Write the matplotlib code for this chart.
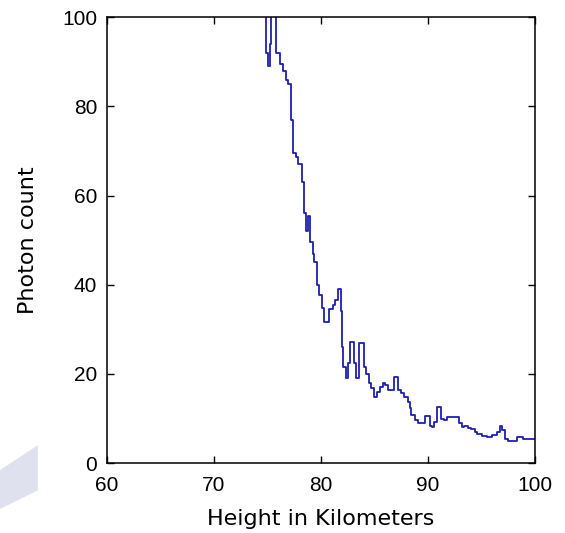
import matplotlib
matplotlib.use('Agg')
import matplotlib.pyplot as plt
from matplotlib.patches import Polygon

# Photon count profile (step levels)
height_km = [
    74.0, 74.85, 75.05, 75.2, 75.35, 75.85, 76.2, 76.45, 76.7, 76.9,
    77.2, 77.4, 77.7, 77.9, 78.2, 78.4, 78.65, 78.75, 79.0, 79.25,
    79.4, 79.6, 79.8, 80.1, 80.3, 80.75, 81.1, 81.3, 81.55, 81.85,
    82.0, 82.1, 82.3, 82.5, 82.7, 83.1, 83.3, 83.6, 84.0, 84.2,
    84.5, 84.7, 84.95, 85.25, 85.5, 85.8, 86.0, 86.3, 86.8, 87.2,
    87.5, 87.8, 88.1, 88.3, 88.4, 88.8, 89.1, 89.7, 90.2, 90.4,
    90.6, 90.85, 91.2, 91.5, 91.8, 92.9, 93.15, 93.4, 93.7, 94.0,
    94.35, 94.6, 95.0, 95.5, 95.75, 96.0, 96.4, 96.7, 96.9, 97.2,
    97.5, 98.3, 98.9, 100.0,
]
photons = [
    130, 92, 89, 94, 130, 92, 89.5, 88, 86, 85,
    77, 69.5, 68.6, 67, 63, 56, 52, 55.5, 49.5, 47,
    45, 40, 37.7, 34.8, 31.6, 34.5, 35.5, 36.5, 39, 34,
    26, 21.5, 19, 22.4, 27.1, 22.4, 19, 27, 21.5, 20,
    18, 16.8, 14.8, 16, 17, 18, 17.5, 16.5, 19.3, 16.4,
    15.7, 14.8, 13.7, 12.3, 10.8, 9.6, 9.0, 10.5, 8.3, 8.1,
    9.2, 12.6, 10, 9.6, 10.3, 9.0, 8.1, 8.3, 7.8, 7.6,
    7.0, 6.5, 6.0, 5.8, 5.9, 6.3, 7.0, 8.3, 7.4, 5.4,
    4.9, 5.8, 5.4, 5.4,
]

x_ticks = [60, 70, 80, 90, 100]
y_ticks = [0, 20, 40, 60, 80, 100]

plt.rcParams['font.family'] = ['Liberation Sans', 'DejaVu Sans']

fig = plt.figure(figsize=(5.65, 5.33), dpi=100)
ax = fig.add_axes([0.189, 0.131, 0.758, 0.837])

ax.plot(height_km, photons, color='#1f1fb0', linewidth=1.3, drawstyle='steps-post')

ax.set_xlim(60, 100)
ax.set_ylim(0, 100)
ax.set_xticks(x_ticks)
ax.set_yticks(y_ticks)
ax.tick_params(direction='in', length=5, width=1, top=True, right=True,
               labelsize=15, colors='black')
ax.tick_params(axis='x', pad=9.5)
ax.tick_params(axis='y', pad=7)
for spine in ax.spines.values():
    spine.set_linewidth(1.1)

ax.set_xlabel('Height in Kilometers', fontsize=16, family='DejaVu Sans', labelpad=10)
ax.set_ylabel('Photon count', fontsize=16, family='DejaVu Sans', labelpad=17)

# faint shape in the bottom-left corner
fig.patches.append(Polygon([[0, 0.118], [0.067, 0.165], [0.067, 0.08], [0, 0.045]],
                           closed=True, transform=fig.transFigure,
                           facecolor='#dfe2ee', edgecolor='none'))

plt.savefig('out.png', dpi=100)
